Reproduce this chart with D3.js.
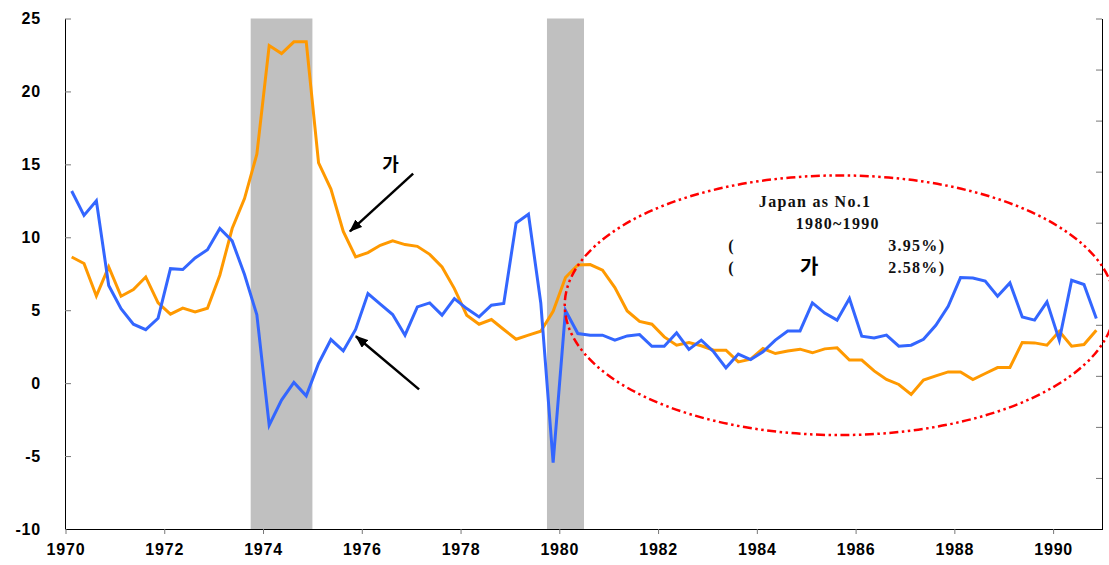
<!DOCTYPE html>
<html>
<head>
<meta charset="utf-8">
<script src="https://cdn.jsdelivr.net/npm/d3@7/dist/d3.min.js"></script>
<style>
    body { margin: 0; background: #fff; }
    .axis text { font-family: "Liberation Sans", Arial, sans-serif; font-weight: bold; font-size: 16px; fill: #000; letter-spacing: 0.8px; }
    .axis .domain { stroke: #000; }
    .axis .tick line { stroke: #777; }
    .note { font-family: "Liberation Serif", "Times New Roman", serif; font-weight: bold; font-size: 16px; fill: #111; letter-spacing: 1.3px; }
    .hangul { font-family: "Noto Sans CJK KR", sans-serif; font-weight: bold; fill: #000; }
</style>
</head>
<body>
<svg id="chart" width="1109" height="565"></svg>
<script>
// quarterly series, 1970Q1 .. 1990Q4
var gdpGrowth = [
    13.17, 11.5, 12.5, 6.7, 5.1, 4.04, 3.67, 4.45,
    7.85, 7.79, 8.58, 9.15, 10.6, 9.75, 7.45, 4.68,
    -2.88, -1.16, 0.05, -0.87, 1.35, 2.99, 2.21, 3.68,
    6.14, 5.41, 4.7, 3.29, 5.23, 5.5, 4.66, 5.8,
    5.11, 4.54, 5.34, 5.46, 10.98, 11.58, 5.5, -5.45,
    4.98, 3.4, 3.29, 3.29, 2.95, 3.24, 3.33, 2.53,
    2.53, 3.45, 2.31, 2.95, 2.15, 1.05, 1.99, 1.62,
    2.15, 2.95, 3.58, 3.58, 5.5, 4.8, 4.32, 5.8,
    3.22, 3.1, 3.29, 2.53, 2.6, 3.01, 3.97, 5.27,
    7.24, 7.21, 7.0, 5.96, 6.87, 4.54, 4.32, 5.57,
    2.95, 7.05, 6.76, 4.43
];
var cpiInflation = [
    8.65, 8.2, 5.98, 7.97, 5.96, 6.42, 7.28, 5.5,
    4.73, 5.14, 4.89, 5.14, 7.4, 10.6, 12.65, 15.7,
    23.15, 22.6, 23.4, 23.4, 15.1, 13.3, 10.4, 8.65,
    8.95, 9.45, 9.75, 9.5, 9.38, 8.83, 7.97, 6.48,
    4.66, 4.04, 4.36, 3.68, 3.01, 3.29, 3.56, 4.93,
    7.24, 8.1, 8.13, 7.74, 6.55, 4.95, 4.23, 4.04,
    3.17, 2.6, 2.79, 2.56, 2.26, 2.26, 1.46, 1.64,
    2.37, 2.03, 2.21, 2.33, 2.08, 2.35, 2.42, 1.58,
    1.58, 0.84, 0.25, -0.09, -0.77, 0.21, 0.5, 0.77,
    0.77, 0.25, 0.66, 1.07, 1.07, 2.79, 2.76, 2.6,
    3.56, 2.53, 2.65, 3.63
];
var startYear = 1970;
var quarters = gdpGrowth.map(function (d, i) { return startYear + (i + 0.5) / 4; });

var recessions = [[1973.75, 1975.0], [1979.75, 1980.5]];
var xTicks = [1970, 1972, 1974, 1976, 1978, 1980, 1982, 1984, 1986, 1988, 1990];
var yTicks = [-10, -5, 0, 5, 10, 15, 20, 25];

// annotations (year, value)
var arrows = [
    { from: [1977.04, 14.36], to: [1975.76, 10.41] },
    { from: [1977.16, -0.43], to: [1975.88, 3.22] }
];
var highlight = { year: 1985.68, value: 5.34, yearEdge: 1991.25, valueEdge: -3.56 };
var noteLines = [
    { text: "Japan as No.1", year: 1985.18, value: 12.05, anchor: "middle" },
    { text: "1980~1990", year: 1985.64, value: 10.55, anchor: "middle" },
    { text: "(", year: 1983.42, value: 9.04, anchor: "start" },
    { text: "3.95%)", year: 1986.66, value: 9.04, anchor: "start" },
    { text: "(", year: 1983.42, value: 7.53, anchor: "start" },
    { text: "2.58%)", year: 1986.66, value: 7.53, anchor: "start" }
];
var hangulLabels = [
    { text: "가", year: 1976.58, value: 14.52, size: 18 },
    { text: "가", year: 1985.06, value: 7.47, size: 20 }
];

window.addEventListener("load", function () {
    drawChart();
});

function drawChart() {
    var svg = d3.select("#chart");

    var x = d3.scaleLinear().domain([1970, 1991]).range([65.5, 1102.5]);
    var y = d3.scaleLinear().domain([-10, 25]).range([529, 18.5]);
    var yRight = d3.scaleLinear().domain([0, 10]).range([529, 18.5]);

    // shaded periods
    svg.append("g").selectAll("rect")
        .data(recessions)
        .enter().append("rect")
        .attr("x", function (d) { return x(d[0]); })
        .attr("y", y(25))
        .attr("width", function (d) { return x(d[1]) - x(d[0]); })
        .attr("height", y(-10) - y(25))
        .attr("fill", "#c0c0c0");

    // axes
    svg.append("g")
        .attr("class", "axis")
        .attr("transform", "translate(65,0)")
        .call(d3.axisLeft(y).tickValues(yTicks).tickSize(-6).tickSizeOuter(0).tickPadding(24)
            .tickFormat(function (d) { return d < 0 ? "-" + Math.abs(d) : d; }));

    svg.append("g")
        .attr("class", "axis")
        .attr("transform", "translate(1102,0)")
        .call(d3.axisRight(yRight).ticks(10).tickSize(-6).tickSizeOuter(0).tickFormat(""));

    svg.append("g")
        .attr("class", "axis")
        .attr("transform", "translate(0,529)")
        .call(d3.axisBottom(x).tickValues(xTicks).tickSize(5).tickSizeOuter(0).tickPadding(10)
            .tickFormat(d3.format("d")));

    // lines
    var line = d3.line()
        .x(function (d, i) { return x(quarters[i]); })
        .y(function (d) { return y(d); });

    svg.append("path")
        .datum(cpiInflation)
        .attr("fill", "none")
        .attr("stroke", "#ff9900")
        .attr("stroke-width", 3)
        .attr("d", line);

    svg.append("path")
        .datum(gdpGrowth)
        .attr("fill", "none")
        .attr("stroke", "#3366ff")
        .attr("stroke-width", 3)
        .attr("d", line);

    // highlight ellipse
    svg.append("ellipse")
        .attr("cx", x(highlight.year))
        .attr("cy", y(highlight.value))
        .attr("rx", x(highlight.yearEdge) - x(highlight.year))
        .attr("ry", y(highlight.valueEdge) - y(highlight.value))
        .attr("fill", "none")
        .attr("stroke", "#ff0000")
        .attr("stroke-width", 2.5)
        .attr("stroke-dasharray", "9,3.5,2.5,3.5,2.5,3.5");

    // arrows
    svg.append("defs").append("marker")
        .attr("id", "head")
        .attr("markerUnits", "userSpaceOnUse")
        .attr("markerWidth", 13)
        .attr("markerHeight", 10)
        .attr("refX", 12)
        .attr("refY", 5)
        .attr("orient", "auto")
        .append("path")
        .attr("d", "M0,0 L13,5 L0,10 Z")
        .attr("fill", "#000");

    svg.append("g").selectAll("line")
        .data(arrows)
        .enter().append("line")
        .attr("x1", function (d) { return x(d.from[0]); })
        .attr("y1", function (d) { return y(d.from[1]); })
        .attr("x2", function (d) { return x(d.to[0]); })
        .attr("y2", function (d) { return y(d.to[1]); })
        .attr("stroke", "#000")
        .attr("stroke-width", 2.5)
        .attr("marker-end", "url(#head)");

    // texts
    svg.append("g").selectAll("text")
        .data(noteLines)
        .enter().append("text")
        .attr("class", "note")
        .attr("x", function (d) { return x(d.year); })
        .attr("y", function (d) { return y(d.value); })
        .attr("text-anchor", function (d) { return d.anchor; })
        .text(function (d) { return d.text; });

    svg.append("g").selectAll("text")
        .data(hangulLabels)
        .enter().append("text")
        .attr("class", "hangul")
        .attr("x", function (d) { return x(d.year); })
        .attr("y", function (d) { return y(d.value); })
        .attr("text-anchor", "middle")
        .style("font-size", function (d) { return d.size + "px"; })
        .text(function (d) { return d.text; });
}
</script>
</body>
</html>
